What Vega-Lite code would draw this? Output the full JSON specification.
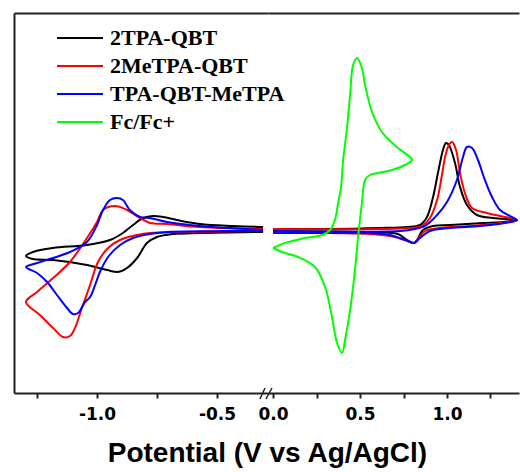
{
"$schema": "https://vega.github.io/schema/vega-lite/v6.json",
"padding": {"left": 14, "top": 13, "right": 0, "bottom": 0},
"bounds": "flush",
"spacing": 0,
"config": {"view": {"stroke": null}, "font": "Liberation Sans"},
"title": {"text": "Potential (V vs Ag/AgCl)", "orient": "bottom", "anchor": "middle", "font": "Liberation Sans", "fontSize": 28, "fontWeight": "bold", "color": "#000", "offset": 18},
"datasets": {
"cv": [
{"s":"2TPA-QBT","p":"L","i":1,"v":-0.308,"c":3},
{"s":"2TPA-QBT","p":"L","i":2,"v":-0.433,"c":4},
{"s":"2TPA-QBT","p":"L","i":3,"v":-0.571,"c":6},
{"s":"2TPA-QBT","p":"L","i":4,"v":-0.667,"c":10},
{"s":"2TPA-QBT","p":"L","i":5,"v":-0.725,"c":13},
{"s":"2TPA-QBT","p":"L","i":6,"v":-0.767,"c":14},
{"s":"2TPA-QBT","p":"L","i":7,"v":-0.808,"c":12},
{"s":"2TPA-QBT","p":"L","i":8,"v":-0.850,"c":5},
{"s":"2TPA-QBT","p":"L","i":9,"v":-0.892,"c":-3},
{"s":"2TPA-QBT","p":"L","i":10,"v":-0.946,"c":-10},
{"s":"2TPA-QBT","p":"L","i":11,"v":-1.042,"c":-15},
{"s":"2TPA-QBT","p":"L","i":12,"v":-1.183,"c":-18},
{"s":"2TPA-QBT","p":"L","i":13,"v":-1.267,"c":-22},
{"s":"2TPA-QBT","p":"L","i":14,"v":-1.296,"c":-26},
{"s":"2TPA-QBT","p":"L","i":15,"v":-1.267,"c":-29},
{"s":"2TPA-QBT","p":"L","i":16,"v":-1.183,"c":-30},
{"s":"2TPA-QBT","p":"L","i":17,"v":-1.042,"c":-35},
{"s":"2TPA-QBT","p":"L","i":18,"v":-0.958,"c":-40},
{"s":"2TPA-QBT","p":"L","i":19,"v":-0.913,"c":-42},
{"s":"2TPA-QBT","p":"L","i":20,"v":-0.875,"c":-38},
{"s":"2TPA-QBT","p":"L","i":21,"v":-0.833,"c":-28},
{"s":"2TPA-QBT","p":"L","i":22,"v":-0.792,"c":-13},
{"s":"2TPA-QBT","p":"L","i":23,"v":-0.750,"c":-7},
{"s":"2TPA-QBT","p":"L","i":24,"v":-0.683,"c":-4},
{"s":"2TPA-QBT","p":"L","i":25,"v":-0.571,"c":-3},
{"s":"2TPA-QBT","p":"L","i":26,"v":-0.308,"c":-2},
{"s":"2MeTPA-QBT","p":"L","i":1,"v":-0.308,"c":1},
{"s":"2MeTPA-QBT","p":"L","i":2,"v":-0.571,"c":3},
{"s":"2MeTPA-QBT","p":"L","i":3,"v":-0.708,"c":6},
{"s":"2MeTPA-QBT","p":"L","i":4,"v":-0.779,"c":7},
{"s":"2MeTPA-QBT","p":"L","i":5,"v":-0.821,"c":12},
{"s":"2MeTPA-QBT","p":"L","i":6,"v":-0.875,"c":20},
{"s":"2MeTPA-QBT","p":"L","i":7,"v":-0.925,"c":24},
{"s":"2MeTPA-QBT","p":"L","i":8,"v":-0.975,"c":20},
{"s":"2MeTPA-QBT","p":"L","i":9,"v":-1.000,"c":8},
{"s":"2MeTPA-QBT","p":"L","i":10,"v":-1.042,"c":-8},
{"s":"2MeTPA-QBT","p":"L","i":11,"v":-1.113,"c":-32},
{"s":"2MeTPA-QBT","p":"L","i":12,"v":-1.183,"c":-48},
{"s":"2MeTPA-QBT","p":"L","i":13,"v":-1.250,"c":-62},
{"s":"2MeTPA-QBT","p":"L","i":14,"v":-1.296,"c":-72},
{"s":"2MeTPA-QBT","p":"L","i":15,"v":-1.238,"c":-85},
{"s":"2MeTPA-QBT","p":"L","i":16,"v":-1.183,"c":-98},
{"s":"2MeTPA-QBT","p":"L","i":17,"v":-1.142,"c":-107},
{"s":"2MeTPA-QBT","p":"L","i":18,"v":-1.113,"c":-106},
{"s":"2MeTPA-QBT","p":"L","i":19,"v":-1.092,"c":-98},
{"s":"2MeTPA-QBT","p":"L","i":20,"v":-1.063,"c":-78},
{"s":"2MeTPA-QBT","p":"L","i":21,"v":-1.029,"c":-55},
{"s":"2MeTPA-QBT","p":"L","i":22,"v":-0.996,"c":-32},
{"s":"2MeTPA-QBT","p":"L","i":23,"v":-0.954,"c":-18},
{"s":"2MeTPA-QBT","p":"L","i":24,"v":-0.904,"c":-10},
{"s":"2MeTPA-QBT","p":"L","i":25,"v":-0.833,"c":-5},
{"s":"2MeTPA-QBT","p":"L","i":26,"v":-0.779,"c":-3},
{"s":"2MeTPA-QBT","p":"L","i":27,"v":-0.642,"c":-2},
{"s":"2MeTPA-QBT","p":"L","i":28,"v":-0.308,"c":-1},
{"s":"TPA-QBT-MeTPA","p":"L","i":1,"v":-0.308,"c":0},
{"s":"TPA-QBT-MeTPA","p":"L","i":2,"v":-0.571,"c":4},
{"s":"TPA-QBT-MeTPA","p":"L","i":3,"v":-0.708,"c":8},
{"s":"TPA-QBT-MeTPA","p":"L","i":4,"v":-0.779,"c":12},
{"s":"TPA-QBT-MeTPA","p":"L","i":5,"v":-0.821,"c":13},
{"s":"TPA-QBT-MeTPA","p":"L","i":6,"v":-0.863,"c":20},
{"s":"TPA-QBT-MeTPA","p":"L","i":7,"v":-0.892,"c":30},
{"s":"TPA-QBT-MeTPA","p":"L","i":8,"v":-0.917,"c":32},
{"s":"TPA-QBT-MeTPA","p":"L","i":9,"v":-0.946,"c":30},
{"s":"TPA-QBT-MeTPA","p":"L","i":10,"v":-0.975,"c":20},
{"s":"TPA-QBT-MeTPA","p":"L","i":11,"v":-1.000,"c":5},
{"s":"TPA-QBT-MeTPA","p":"L","i":12,"v":-1.042,"c":-12},
{"s":"TPA-QBT-MeTPA","p":"L","i":13,"v":-1.113,"c":-22},
{"s":"TPA-QBT-MeTPA","p":"L","i":14,"v":-1.183,"c":-28},
{"s":"TPA-QBT-MeTPA","p":"L","i":15,"v":-1.250,"c":-33},
{"s":"TPA-QBT-MeTPA","p":"L","i":16,"v":-1.296,"c":-37},
{"s":"TPA-QBT-MeTPA","p":"L","i":17,"v":-1.250,"c":-43},
{"s":"TPA-QBT-MeTPA","p":"L","i":18,"v":-1.208,"c":-52},
{"s":"TPA-QBT-MeTPA","p":"L","i":19,"v":-1.167,"c":-65},
{"s":"TPA-QBT-MeTPA","p":"L","i":20,"v":-1.125,"c":-78},
{"s":"TPA-QBT-MeTPA","p":"L","i":21,"v":-1.100,"c":-84},
{"s":"TPA-QBT-MeTPA","p":"L","i":22,"v":-1.079,"c":-83},
{"s":"TPA-QBT-MeTPA","p":"L","i":23,"v":-1.050,"c":-72},
{"s":"TPA-QBT-MeTPA","p":"L","i":24,"v":-1.029,"c":-67},
{"s":"TPA-QBT-MeTPA","p":"L","i":25,"v":-1.008,"c":-55},
{"s":"TPA-QBT-MeTPA","p":"L","i":26,"v":-0.988,"c":-42},
{"s":"TPA-QBT-MeTPA","p":"L","i":27,"v":-0.954,"c":-27},
{"s":"TPA-QBT-MeTPA","p":"L","i":28,"v":-0.904,"c":-15},
{"s":"TPA-QBT-MeTPA","p":"L","i":29,"v":-0.850,"c":-8},
{"s":"TPA-QBT-MeTPA","p":"L","i":30,"v":-0.779,"c":-4},
{"s":"TPA-QBT-MeTPA","p":"L","i":31,"v":-0.708,"c":-2},
{"s":"TPA-QBT-MeTPA","p":"L","i":32,"v":-0.308,"c":-1},
{"s":"2TPA-QBT","p":"R","i":1,"v":0.000,"c":1},
{"s":"2TPA-QBT","p":"R","i":2,"v":0.328,"c":1},
{"s":"2TPA-QBT","p":"R","i":3,"v":0.615,"c":2},
{"s":"2TPA-QBT","p":"R","i":4,"v":0.770,"c":3},
{"s":"2TPA-QBT","p":"R","i":5,"v":0.845,"c":5},
{"s":"2TPA-QBT","p":"R","i":6,"v":0.885,"c":13},
{"s":"2TPA-QBT","p":"R","i":7,"v":0.920,"c":33},
{"s":"2TPA-QBT","p":"R","i":8,"v":0.948,"c":57},
{"s":"2TPA-QBT","p":"R","i":9,"v":0.977,"c":80},
{"s":"2TPA-QBT","p":"R","i":10,"v":0.994,"c":87},
{"s":"2TPA-QBT","p":"R","i":11,"v":1.011,"c":85},
{"s":"2TPA-QBT","p":"R","i":12,"v":1.046,"c":67},
{"s":"2TPA-QBT","p":"R","i":13,"v":1.075,"c":43},
{"s":"2TPA-QBT","p":"R","i":14,"v":1.115,"c":25},
{"s":"2TPA-QBT","p":"R","i":15,"v":1.172,"c":15},
{"s":"2TPA-QBT","p":"R","i":16,"v":1.264,"c":12},
{"s":"2TPA-QBT","p":"R","i":17,"v":1.402,"c":10},
{"s":"2TPA-QBT","p":"R","i":18,"v":1.322,"c":8},
{"s":"2TPA-QBT","p":"R","i":19,"v":1.207,"c":7},
{"s":"2TPA-QBT","p":"R","i":20,"v":1.017,"c":5},
{"s":"2TPA-QBT","p":"R","i":21,"v":0.920,"c":4},
{"s":"2TPA-QBT","p":"R","i":22,"v":0.862,"c":0},
{"s":"2TPA-QBT","p":"R","i":23,"v":0.828,"c":-10},
{"s":"2TPA-QBT","p":"R","i":24,"v":0.810,"c":-13},
{"s":"2TPA-QBT","p":"R","i":25,"v":0.770,"c":-10},
{"s":"2TPA-QBT","p":"R","i":26,"v":0.718,"c":-4},
{"s":"2TPA-QBT","p":"R","i":27,"v":0.529,"c":-2},
{"s":"2TPA-QBT","p":"R","i":28,"v":0.000,"c":-1},
{"s":"2MeTPA-QBT","p":"R","i":1,"v":0.000,"c":1},
{"s":"2MeTPA-QBT","p":"R","i":2,"v":0.615,"c":1},
{"s":"2MeTPA-QBT","p":"R","i":3,"v":0.787,"c":2},
{"s":"2MeTPA-QBT","p":"R","i":4,"v":0.856,"c":4},
{"s":"2MeTPA-QBT","p":"R","i":5,"v":0.902,"c":12},
{"s":"2MeTPA-QBT","p":"R","i":6,"v":0.943,"c":30},
{"s":"2MeTPA-QBT","p":"R","i":7,"v":0.971,"c":55},
{"s":"2MeTPA-QBT","p":"R","i":8,"v":0.989,"c":73},
{"s":"2MeTPA-QBT","p":"R","i":9,"v":1.011,"c":85},
{"s":"2MeTPA-QBT","p":"R","i":10,"v":1.029,"c":88},
{"s":"2MeTPA-QBT","p":"R","i":11,"v":1.052,"c":80},
{"s":"2MeTPA-QBT","p":"R","i":12,"v":1.075,"c":57},
{"s":"2MeTPA-QBT","p":"R","i":13,"v":1.103,"c":37},
{"s":"2MeTPA-QBT","p":"R","i":14,"v":1.144,"c":22},
{"s":"2MeTPA-QBT","p":"R","i":15,"v":1.230,"c":17},
{"s":"2MeTPA-QBT","p":"R","i":16,"v":1.305,"c":14},
{"s":"2MeTPA-QBT","p":"R","i":17,"v":1.402,"c":10},
{"s":"2MeTPA-QBT","p":"R","i":18,"v":1.305,"c":7},
{"s":"2MeTPA-QBT","p":"R","i":19,"v":1.132,"c":4},
{"s":"2MeTPA-QBT","p":"R","i":20,"v":0.960,"c":2},
{"s":"2MeTPA-QBT","p":"R","i":21,"v":0.874,"c":-1},
{"s":"2MeTPA-QBT","p":"R","i":22,"v":0.833,"c":-9},
{"s":"2MeTPA-QBT","p":"R","i":23,"v":0.810,"c":-13},
{"s":"2MeTPA-QBT","p":"R","i":24,"v":0.759,"c":-10},
{"s":"2MeTPA-QBT","p":"R","i":25,"v":0.672,"c":-6},
{"s":"2MeTPA-QBT","p":"R","i":26,"v":0.557,"c":-4},
{"s":"2MeTPA-QBT","p":"R","i":27,"v":0.328,"c":-3},
{"s":"2MeTPA-QBT","p":"R","i":28,"v":0.000,"c":-2},
{"s":"TPA-QBT-MeTPA","p":"R","i":1,"v":0.000,"c":-1},
{"s":"TPA-QBT-MeTPA","p":"R","i":2,"v":0.730,"c":-1},
{"s":"TPA-QBT-MeTPA","p":"R","i":3,"v":0.816,"c":1},
{"s":"TPA-QBT-MeTPA","p":"R","i":4,"v":0.874,"c":4},
{"s":"TPA-QBT-MeTPA","p":"R","i":5,"v":0.943,"c":15},
{"s":"TPA-QBT-MeTPA","p":"R","i":6,"v":1.000,"c":28},
{"s":"TPA-QBT-MeTPA","p":"R","i":7,"v":1.057,"c":50},
{"s":"TPA-QBT-MeTPA","p":"R","i":8,"v":1.092,"c":73},
{"s":"TPA-QBT-MeTPA","p":"R","i":9,"v":1.115,"c":83},
{"s":"TPA-QBT-MeTPA","p":"R","i":10,"v":1.144,"c":82},
{"s":"TPA-QBT-MeTPA","p":"R","i":11,"v":1.178,"c":70},
{"s":"TPA-QBT-MeTPA","p":"R","i":12,"v":1.218,"c":50},
{"s":"TPA-QBT-MeTPA","p":"R","i":13,"v":1.259,"c":33},
{"s":"TPA-QBT-MeTPA","p":"R","i":14,"v":1.305,"c":20},
{"s":"TPA-QBT-MeTPA","p":"R","i":15,"v":1.362,"c":14},
{"s":"TPA-QBT-MeTPA","p":"R","i":16,"v":1.402,"c":10},
{"s":"TPA-QBT-MeTPA","p":"R","i":17,"v":1.333,"c":7},
{"s":"TPA-QBT-MeTPA","p":"R","i":18,"v":1.190,"c":4},
{"s":"TPA-QBT-MeTPA","p":"R","i":19,"v":1.017,"c":2},
{"s":"TPA-QBT-MeTPA","p":"R","i":20,"v":0.902,"c":-1},
{"s":"TPA-QBT-MeTPA","p":"R","i":21,"v":0.845,"c":-8},
{"s":"TPA-QBT-MeTPA","p":"R","i":22,"v":0.810,"c":-13},
{"s":"TPA-QBT-MeTPA","p":"R","i":23,"v":0.759,"c":-10},
{"s":"TPA-QBT-MeTPA","p":"R","i":24,"v":0.672,"c":-5},
{"s":"TPA-QBT-MeTPA","p":"R","i":25,"v":0.557,"c":-3},
{"s":"TPA-QBT-MeTPA","p":"R","i":26,"v":0.328,"c":-3},
{"s":"TPA-QBT-MeTPA","p":"R","i":27,"v":0.000,"c":-3},
{"s":"Fc/Fc+","p":"R","i":1,"v":0.000,"c":-18},
{"s":"Fc/Fc+","p":"R","i":2,"v":0.069,"c":-13},
{"s":"Fc/Fc+","p":"R","i":3,"v":0.184,"c":-8},
{"s":"Fc/Fc+","p":"R","i":4,"v":0.282,"c":-5},
{"s":"Fc/Fc+","p":"R","i":5,"v":0.328,"c":0},
{"s":"Fc/Fc+","p":"R","i":6,"v":0.356,"c":10},
{"s":"Fc/Fc+","p":"R","i":7,"v":0.374,"c":27},
{"s":"Fc/Fc+","p":"R","i":8,"v":0.391,"c":43},
{"s":"Fc/Fc+","p":"R","i":9,"v":0.402,"c":68},
{"s":"Fc/Fc+","p":"R","i":10,"v":0.425,"c":102},
{"s":"Fc/Fc+","p":"R","i":11,"v":0.443,"c":135},
{"s":"Fc/Fc+","p":"R","i":12,"v":0.460,"c":165},
{"s":"Fc/Fc+","p":"R","i":13,"v":0.483,"c":172},
{"s":"Fc/Fc+","p":"R","i":14,"v":0.511,"c":162},
{"s":"Fc/Fc+","p":"R","i":15,"v":0.529,"c":145},
{"s":"Fc/Fc+","p":"R","i":16,"v":0.569,"c":118},
{"s":"Fc/Fc+","p":"R","i":17,"v":0.626,"c":98},
{"s":"Fc/Fc+","p":"R","i":18,"v":0.718,"c":82},
{"s":"Fc/Fc+","p":"R","i":19,"v":0.787,"c":73},
{"s":"Fc/Fc+","p":"R","i":20,"v":0.799,"c":70},
{"s":"Fc/Fc+","p":"R","i":21,"v":0.759,"c":65},
{"s":"Fc/Fc+","p":"R","i":22,"v":0.684,"c":60},
{"s":"Fc/Fc+","p":"R","i":23,"v":0.603,"c":57},
{"s":"Fc/Fc+","p":"R","i":24,"v":0.557,"c":55},
{"s":"Fc/Fc+","p":"R","i":25,"v":0.529,"c":50},
{"s":"Fc/Fc+","p":"R","i":26,"v":0.511,"c":27},
{"s":"Fc/Fc+","p":"R","i":27,"v":0.489,"c":-7},
{"s":"Fc/Fc+","p":"R","i":28,"v":0.471,"c":-40},
{"s":"Fc/Fc+","p":"R","i":29,"v":0.443,"c":-80},
{"s":"Fc/Fc+","p":"R","i":30,"v":0.414,"c":-110},
{"s":"Fc/Fc+","p":"R","i":31,"v":0.397,"c":-123},
{"s":"Fc/Fc+","p":"R","i":32,"v":0.368,"c":-113},
{"s":"Fc/Fc+","p":"R","i":33,"v":0.339,"c":-87},
{"s":"Fc/Fc+","p":"R","i":34,"v":0.299,"c":-57},
{"s":"Fc/Fc+","p":"R","i":35,"v":0.241,"c":-37},
{"s":"Fc/Fc+","p":"R","i":36,"v":0.144,"c":-27},
{"s":"Fc/Fc+","p":"R","i":37,"v":0.052,"c":-22},
{"s":"Fc/Fc+","p":"R","i":38,"v":0.000,"c":-18}
],
"brk": [
{"v1": -0.321, "v2": -0.300, "c1": -169, "c2": -158},
{"v1": -0.296, "v2": -0.271, "c1": -169, "c2": -158}
]
},
"hconcat": [
{
"width": 254, "height": 380,
"layer": [
{
"data": {"name": "cv"},
"transform": [{"filter": "datum.p == 'L'"}],
"mark": {"type": "line", "strokeWidth": 2, "interpolate": "catmull-rom"},
"encoding": {
"x": {"field": "v", "type": "quantitative", "scale": {"domain": [-1.346, -0.2875], "nice": false, "zero": false},
  "axis": {"orient": "bottom", "title": null, "grid": false, "values": [-1.25, -1, -0.75, -0.5],
    "labelExpr": "datum.value == -1 ? '-1.0' : datum.value == -0.5 ? '-0.5' : ''",
    "domainColor": "#222", "domainWidth": 2, "tickColor": "#222", "tickWidth": 2, "tickSize": 5,
    "labelFont": "DejaVu Sans", "labelFontWeight": "bold", "labelFontSize": 17, "labelColor": "#000", "labelPadding": 8}},
"y": {"field": "c", "type": "quantitative", "scale": {"domain": [-163, 217], "nice": false, "zero": false},
  "axis": {"orient": "left", "title": null, "labels": false, "ticks": false, "grid": false, "domainColor": "#222", "domainWidth": 2}},
"color": {"field": "s", "type": "nominal",
  "scale": {"domain": ["2TPA-QBT", "2MeTPA-QBT", "TPA-QBT-MeTPA", "Fc/Fc+"], "range": ["#000000", "#ff0000", "#0000ff", "#00ff00"]},
  "legend": {"orient": "none", "legendX": 55, "legendY": 14, "title": null, "symbolType": "M-2.3,0H2.3", "symbolSize": 400, "symbolStrokeWidth": 2,
    "labelFont": "Liberation Serif", "labelFontWeight": "bold", "labelFontSize": 22, "labelColor": "#000", "labelOffset": 19, "labelLimit": 400, "rowPadding": 6, "padding": 0}},
"order": {"field": "i", "type": "quantitative"}
}
},
{
"data": {"name": "brk"},
"mark": {"type": "rule", "strokeWidth": 1.5, "color": "#222"},
"encoding": {
"x": {"field": "v1", "type": "quantitative", "axis": {"orient": "top", "title": null, "labels": false, "ticks": false, "grid": false, "domainColor": "#222", "domainWidth": 2}},
"x2": {"field": "v2"},
"y": {"field": "c1", "type": "quantitative"},
"y2": {"field": "c2"}
}
}
]
},
{
"width": 251, "height": 380,
"layer": [
{
"data": {"name": "cv"},
"transform": [{"filter": "datum.p == 'R'"}],
"mark": {"type": "line", "strokeWidth": 2, "interpolate": "catmull-rom"},
"encoding": {
"x": {"field": "v", "type": "quantitative", "scale": {"domain": [-0.029, 1.414], "nice": false, "zero": false},
  "axis": {"orient": "bottom", "title": null, "grid": false, "values": [0, 0.25, 0.5, 0.75, 1, 1.25],
    "labelExpr": "datum.value == 0 ? '0.0' : datum.value == 0.5 ? '0.5' : datum.value == 1 ? '1.0' : ''",
    "domainColor": "#222", "domainWidth": 2, "tickColor": "#222", "tickWidth": 2, "tickSize": 5,
    "labelFont": "DejaVu Sans", "labelFontWeight": "bold", "labelFontSize": 17, "labelColor": "#000", "labelPadding": 8}},
"y": {"field": "c", "type": "quantitative", "scale": {"domain": [-163, 217], "nice": false, "zero": false}, "axis": null},
"color": {"field": "s", "type": "nominal"},
"order": {"field": "i", "type": "quantitative"}
}
},
{
"data": {"name": "brk"},
"transform": [{"filter": "false"}],
"mark": {"type": "rule"},
"encoding": {
"x": {"field": "v1", "type": "quantitative", "axis": {"orient": "top", "title": null, "labels": false, "ticks": false, "grid": false, "domainColor": "#222", "domainWidth": 2}}
}
}
]
}
]
}
